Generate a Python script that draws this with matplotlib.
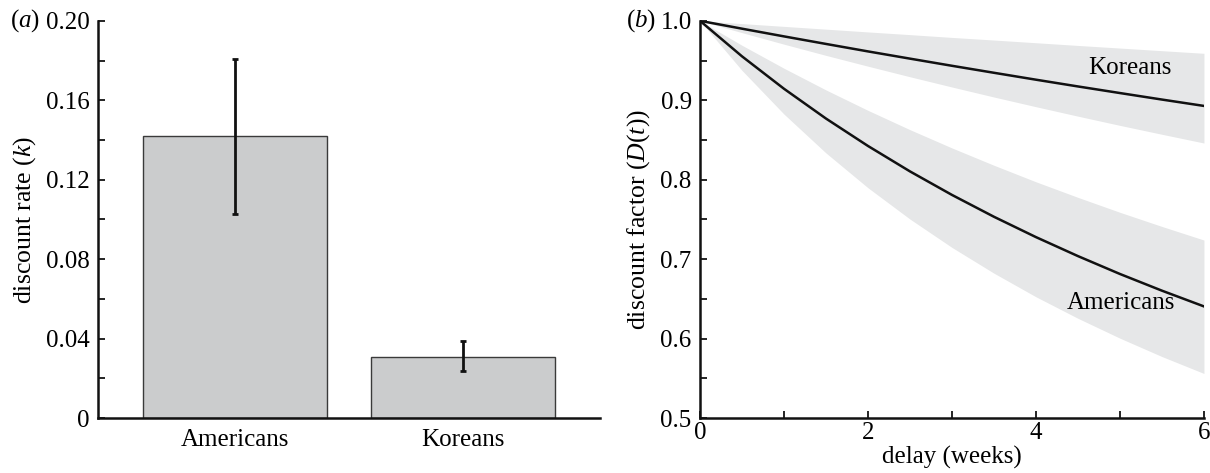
import matplotlib
matplotlib.use("Agg")
import matplotlib.pyplot as plt
from matplotlib.ticker import MultipleLocator

plt.rcParams['font.family'] = ['Liberation Serif', 'DejaVu Serif']
plt.rcParams['mathtext.fontset'] = 'custom'
plt.rcParams['mathtext.rm'] = 'Liberation Serif'
plt.rcParams['mathtext.it'] = 'Liberation Serif:italic'

# ---- data: panel (a)
groups = ["Americans", "Koreans"]
rates = [0.142, 0.031]
err_low = [0.103, 0.0237]
err_high = [0.181, 0.0389]

# ---- data: panel (b)
delay = [0, 0.5, 1, 1.5, 2, 2.5, 3, 3.5, 4, 4.5, 5, 5.5, 6]
am_mean = [1.0, 0.9553, 0.9145, 0.8770, 0.8425, 0.8105, 0.7809, 0.7534, 0.7278, 0.7039, 0.6814, 0.6604, 0.6406]
am_upper = [1.0, 0.9692, 0.9403, 0.9130, 0.8873, 0.8630, 0.8400, 0.8182, 0.7974, 0.7778, 0.7590, 0.7412, 0.7241]
am_lower = [1.0, 0.9376, 0.8826, 0.8337, 0.7899, 0.7505, 0.7148, 0.6824, 0.6527, 0.6256, 0.6006, 0.5775, 0.5562]
ko_mean = [1.0, 0.9901, 0.9804, 0.9709, 0.9615, 0.9524, 0.9434, 0.9346, 0.9259, 0.9174, 0.9091, 0.9009, 0.8929]
ko_upper = [1.0, 0.9965, 0.9930, 0.9895, 0.9860, 0.9826, 0.9791, 0.9758, 0.9724, 0.9690, 0.9657, 0.9624, 0.9591]
ko_lower = [1.0, 0.9851, 0.9706, 0.9565, 0.9429, 0.9296, 0.9167, 0.9041, 0.8919, 0.8800, 0.8684, 0.8572, 0.8462]

FS = 18
LFS = 18.5
fig = plt.figure(figsize=(12.1, 4.73), dpi=100)
axa = fig.add_axes([0.081, 0.116, 0.415, 0.840])
axb = fig.add_axes([0.5785, 0.116, 0.4165, 0.840])

# panel (a)
xpos = list(range(len(groups)))
yerr = [[r - l for r, l in zip(rates, err_low)], [h - r for r, h in zip(rates, err_high)]]
axa.bar(xpos, rates, width=0.805, color='#cbcccd', edgecolor='#3a3a3a', linewidth=1.0, zorder=2)
axa.errorbar(xpos, rates, yerr=yerr, fmt='none', ecolor='#111111', elinewidth=2.0,
             capsize=2.5, capthick=2.0, zorder=3)
axa.set_xlim(-0.6, 1.6)
axa.set_ylim(0, 0.20)
axa.set_xticks(xpos)
axa.set_xticklabels(groups, fontsize=FS)
axa.set_yticks([0, 0.04, 0.08, 0.12, 0.16, 0.20])
axa.set_yticklabels(['0', '0.04', '0.08', '0.12', '0.16', '0.20'], fontsize=FS)
axa.yaxis.set_minor_locator(MultipleLocator(0.02))
axa.tick_params(axis='x', length=0, pad=8)
axa.tick_params(axis='y', which='both', direction='in', length=5, width=1.2, pad=6)
axa.set_ylabel(r'discount rate ($k$)', fontsize=LFS, labelpad=6)
for s in ['top', 'right']:
    axa.spines[s].set_visible(False)
for s in ['left', 'bottom']:
    axa.spines[s].set_linewidth(1.8)
    axa.spines[s].set_color('#111111')
fig.text(0.008, 0.956, r'($a$)', fontsize=FS, ha='left', va='center')

# panel (b)
axb.fill_between(delay, am_lower, am_upper, color='#e6e7e8', linewidth=0, zorder=1)
axb.fill_between(delay, ko_lower, ko_upper, color='#e6e7e8', linewidth=0, zorder=1)
axb.plot(delay, am_mean, color='#111111', lw=1.8, zorder=3)
axb.plot(delay, ko_mean, color='#111111', lw=1.8, zorder=3)
axb.text(5.12, 0.941, 'Koreans', fontsize=FS, ha='center', va='center')
axb.text(5.01, 0.645, 'Americans', fontsize=FS, ha='center', va='center')
axb.set_xlim(0, 6)
axb.set_ylim(0.5, 1.0)
axb.set_xticks([0, 2, 4, 6])
axb.set_xticklabels(['0', '2', '4', '6'], fontsize=FS)
axb.xaxis.set_minor_locator(MultipleLocator(1))
axb.set_yticks([0.5, 0.6, 0.7, 0.8, 0.9, 1.0])
axb.set_yticklabels(['0.5', '0.6', '0.7', '0.8', '0.9', '1.0'], fontsize=FS)
axb.yaxis.set_minor_locator(MultipleLocator(0.05))
axb.tick_params(axis='both', which='both', direction='in', length=5, width=1.2)
axb.tick_params(axis='x', pad=3)
axb.tick_params(axis='y', pad=6)
axb.set_xlabel('delay (weeks)', fontsize=FS, labelpad=1)
axb.set_ylabel(r'discount factor ($D$($t$))', fontsize=LFS, labelpad=6)
for s in ['top', 'right']:
    axb.spines[s].set_visible(False)
for s in ['left', 'bottom']:
    axb.spines[s].set_linewidth(1.8)
    axb.spines[s].set_color('#111111')
fig.text(0.517, 0.956, r'($b$)', fontsize=FS, ha='left', va='center')

fig.savefig('out.png', dpi=100)
